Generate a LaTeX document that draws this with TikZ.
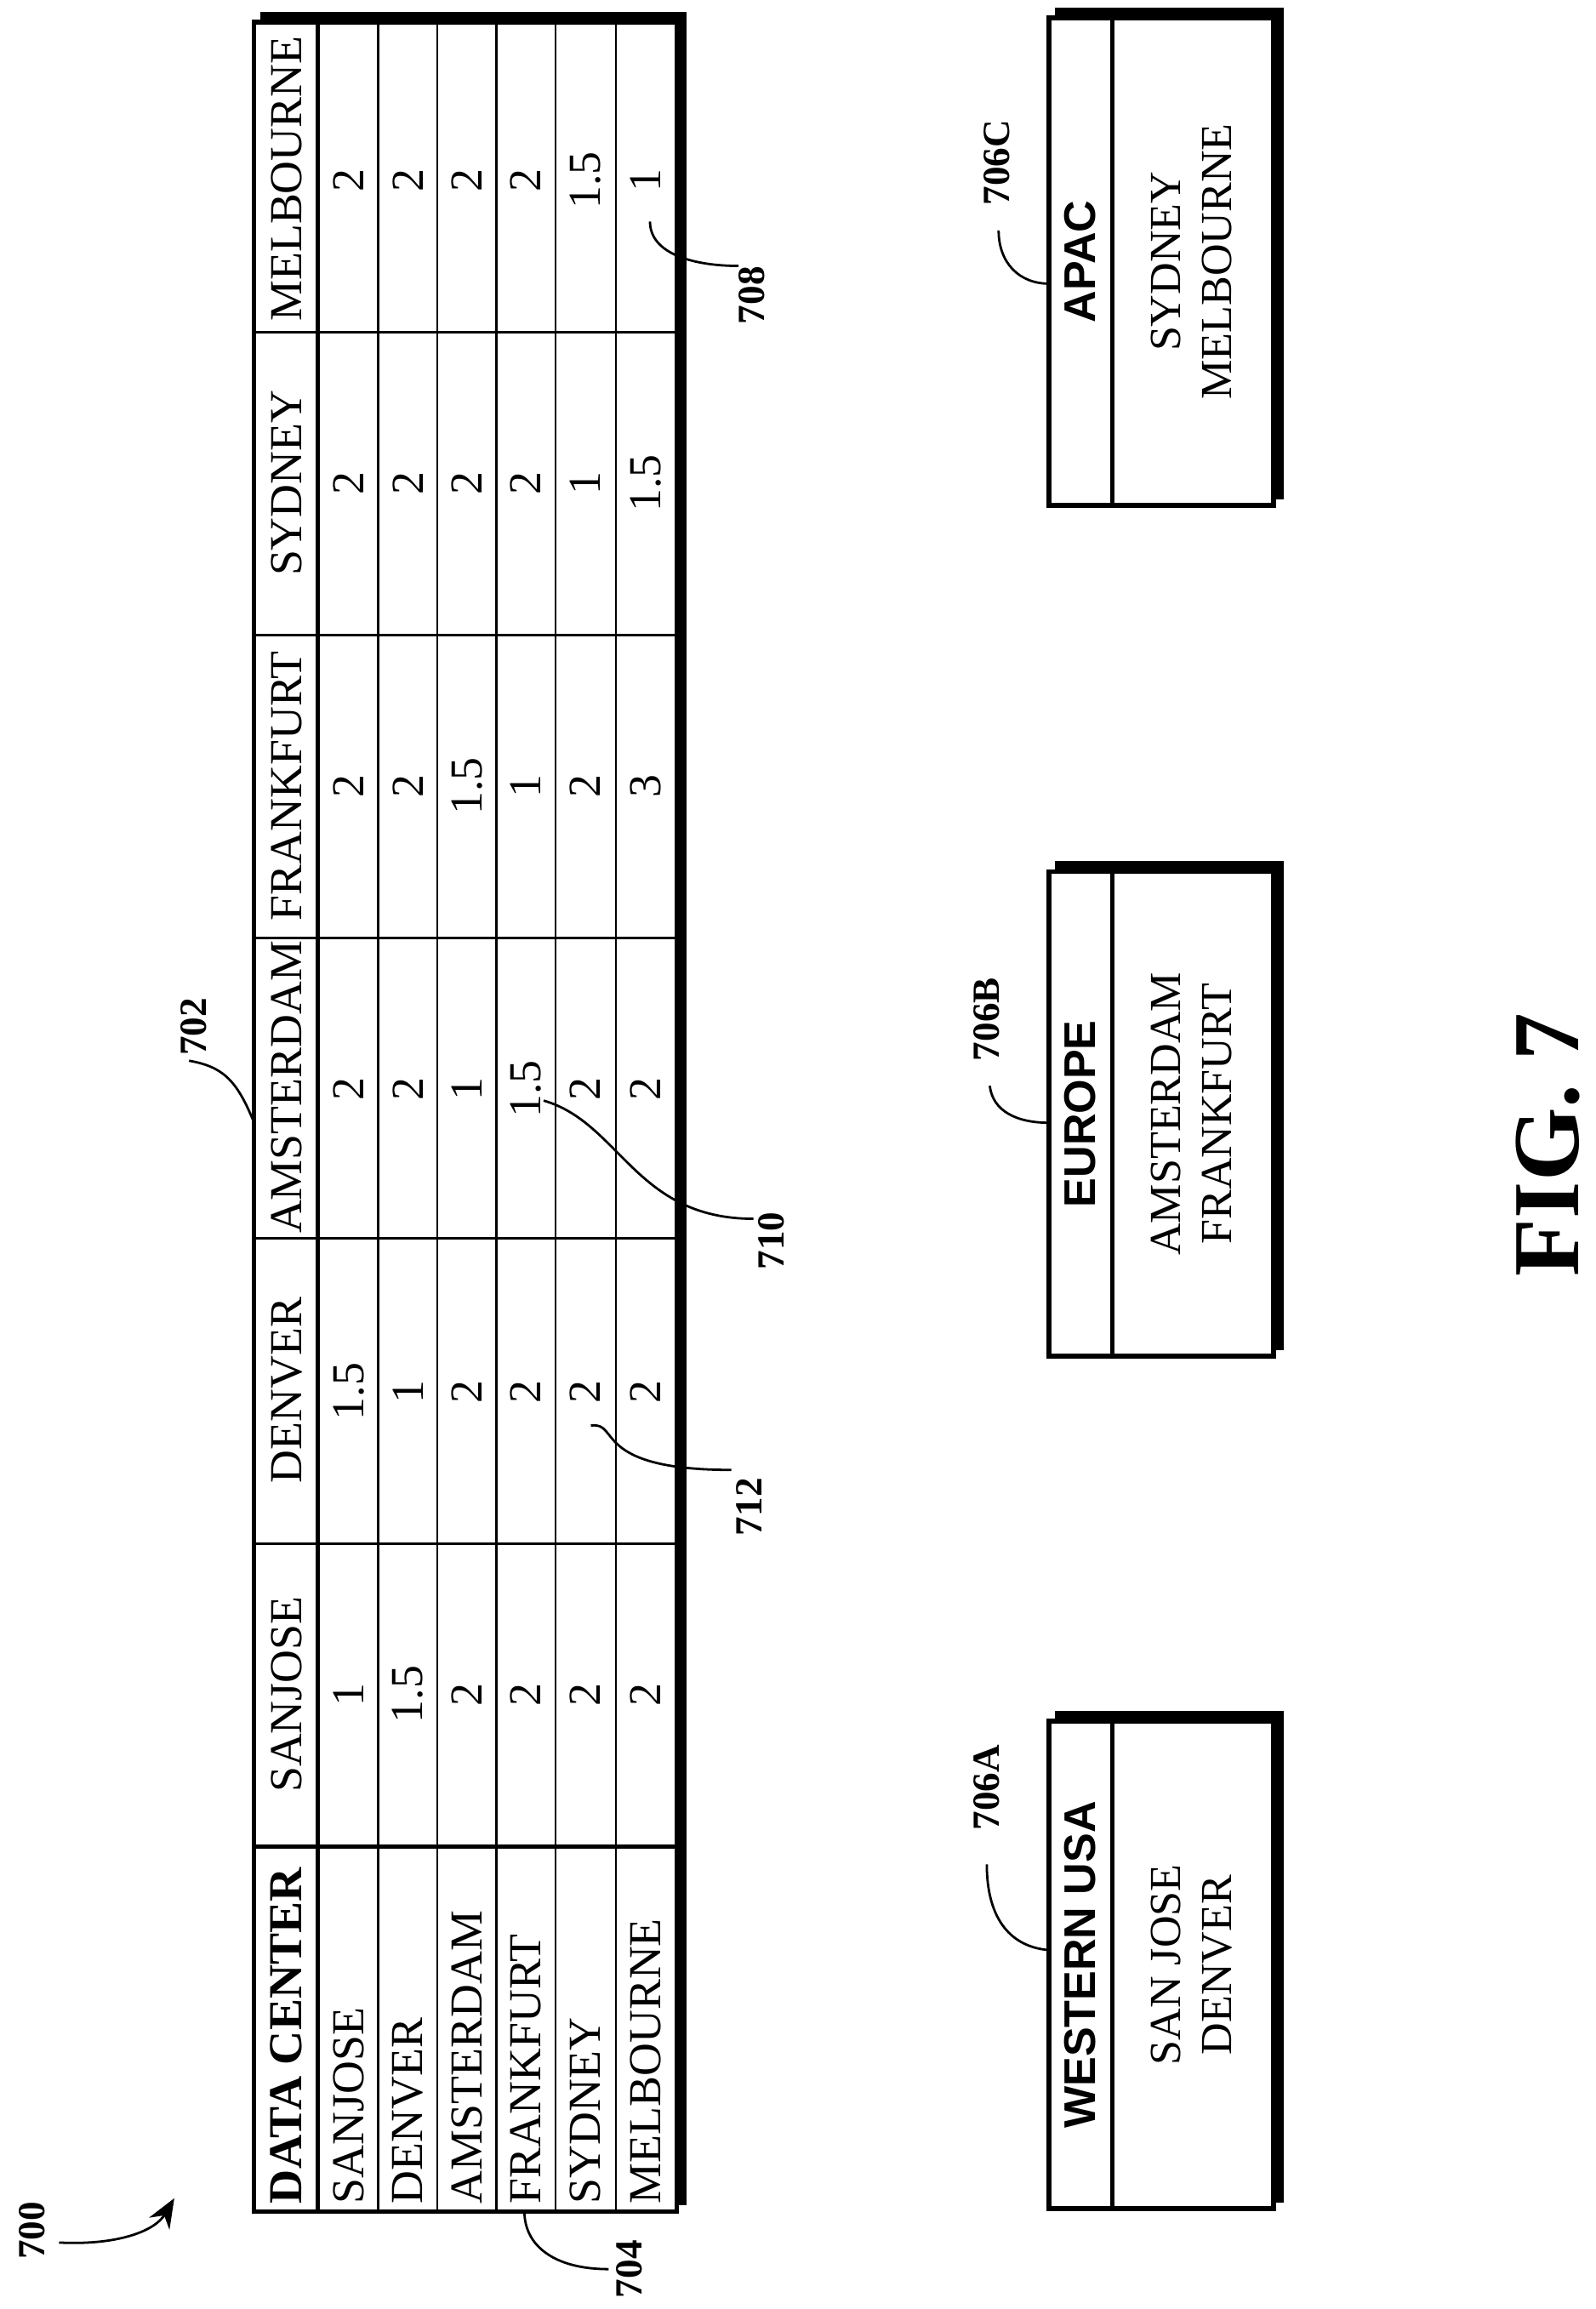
\documentclass[tikz,border=0pt]{standalone}
\usepackage{fontspec}
\setmainfont{Liberation Serif}
\setsansfont{Liberation Sans}
\usetikzlibrary{arrows.meta}
\begin{document}
\begin{tikzpicture}[x=0.5pt,y=-0.5pt,
  cell/.style={rotate=90,inner sep=0pt,font=\fontsize{15.5}{18}\selectfont},
  hdr/.style={rotate=90,inner sep=0pt,font=\fontsize{15}{17}\selectfont},
  lbl/.style={rotate=90,inner sep=0pt,font=\bfseries\fontsize{13}{15}\selectfont},
  lead/.style={line width=0.8pt},
  box/.style={line width=1.6pt},
  shadow/.style={line width=3pt}]
\useasboundingbox (0,0) rectangle (1080,1563);
% table
\coordinate (T1) at (172,15); \coordinate (T2) at (458,1497);
\draw[shadow] (176,11) -- (462,11) -- (462,1493);
\draw[box] (T1) rectangle (T2);
\foreach \x in {256,296,336,376,417} \draw[line width=0.8pt] (\x,15) -- (\x,1497);
\draw[box] (215,15) -- (215,1497);
\foreach \y in {225,430,635,838,1045} \draw[line width=0.8pt] (172,\y) -- (458,\y);
\draw[box] (172,1250) -- (458,1250);
% header
\node[cell,anchor=west,font=\bfseries\fontsize{16}{19}\selectfont] (h0) at (194,1492) {DATA CENTER};
\foreach \n/\y in {SANJOSE/1147,DENVER/941,AMSTERDAM/736,FRANKFURT/532,SYDNEY/327,MELBOURNE/121}
  \node[cell] (h\n) at (194,\y) {\n};
% row labels
\foreach \n/\x in {SANJOSE/236,DENVER/276,AMSTERDAM/316,FRANKFURT/356,SYDNEY/396,MELBOURNE/437}
  \node[cell,anchor=west] (r\n) at (\x,1492) {\n};
% values
\foreach \x/\vals in {236/{1,1.5,2,2,2,2},276/{1.5,1,2,2,2,2},316/{2,2,1,1.5,2,2},356/{2,2,1.5,1,2,2},396/{2,2,2,2,1,1.5},437/{2,2,2,3,1.5,1}}{
  \foreach \v [count=\i] in \vals {
    \pgfmathsetmacro\yy{1147-205*(\i-1)}
    \node[cell] (v\x-\i) at (\x,\yy) {\v};
  }
}
% boxes
\foreach \nm/\ya/\yb/\t/\la/\lb in {A/1165/1495/WESTERN USA/SAN JOSE/DENVER,B/590/918/EUROPE/AMSTERDAM/FRANKFURT,C/12/342/APAC/SYDNEY/MELBOURNE}{
  \draw[shadow] (714,\ya-4) -- (866,\ya-4) -- (866,\yb-4);
  \draw[box] (710,\ya) rectangle (862,\yb);
  \draw[box] (753,\ya) -- (753,\yb);
  \pgfmathsetmacro\ym{(\ya+\yb)/2}
  \ifx\nm A
  \node[rotate=90,inner sep=0pt,font=\bfseries\fontsize{15}{17}\selectfont] (t\nm) at (731,\ym) {\t};
  \else
  \node[rotate=90,inner sep=0pt,font=\sffamily\bfseries\fontsize{15}{17}\selectfont] (t\nm) at (731,\ym) {\t};
  \fi
  \node[hdr] (a\nm) at (789,\ym) {\la};
  \node[hdr] (b\nm) at (824,\ym) {\lb};
}
% reference labels
\node[lbl] (L700) at (22,1510) {700};
\coordinate (A700s) at (40,1518); \coordinate (A700e) at (118,1488);
\draw[lead,-{Stealth[length=10pt,width=8pt]}] (A700s) .. controls (80,1520) and (105,1510) .. (A700e);
\node[lbl] (L704) at (426,1536) {704};
\coordinate (c704) at (355,1497);
\draw[lead] (c704) .. controls (355,1520) and (375,1536) .. (412,1536);
\node[lbl] (L712) at (507,1020) {712};
\coordinate (c712) at (400,965);
\draw[lead] (c712) .. controls (420,962) and (400,995) .. (495,995);
\node[lbl] (L710) at (522,840) {710};
\coordinate (c710) at (368,745);
\draw[lead] (c710) .. controls (420,760) and (430,825) .. (510,825);
\node[lbl] (L702) at (131,695) {702};
\coordinate (c702) at (172,760);
\draw[lead] (c702) .. controls (160,730) and (150,722) .. (128,718);
\node[lbl] (L708) at (509,200) {708};
\coordinate (c708) at (440,150);
\draw[lead] (c708) .. controls (440,172) and (470,180) .. (500,180);
\node[lbl] (L706A) at (668,1210) {706A};
\coordinate (c706A) at (710,1320);
\draw[lead] (c706A) .. controls (685,1318) and (668,1300) .. (668,1262);
\node[lbl] (L706B) at (668,690) {706B};
\coordinate (c706B) at (710,760);
\draw[lead] (c706B) .. controls (688,760) and (672,752) .. (670,735);
\node[lbl] (L706C) at (675,110) {706C};
\coordinate (c706C) at (710,192);
\draw[lead] (c706C) .. controls (690,192) and (676,178) .. (676,156);
\node[rotate=90,inner sep=0pt,font=\bfseries\fontsize{32}{36}\selectfont] (fig) at (1048,775) {FIG. 7};
\end{tikzpicture}
\end{document}
